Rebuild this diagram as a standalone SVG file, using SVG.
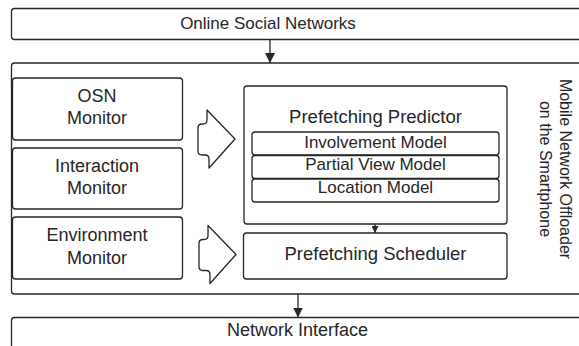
<svg xmlns="http://www.w3.org/2000/svg" width="579" height="346" viewBox="0 0 579 346">
  <style>
    .box { fill: #ffffff; stroke: #262626; stroke-width: 1.3; }
    .line { fill: none; stroke: #262626; stroke-width: 1.3; }
    .big { fill: #ffffff; stroke: #262626; stroke-width: 1.3; stroke-linejoin: round; }
    text { font-family: "Liberation Sans", Arial, sans-serif; fill: #262626; text-anchor: middle; }
  </style>
  <defs>
    <marker id="head" viewBox="0 0 10 10" refX="10" refY="5" markerWidth="10" markerHeight="10" markerUnits="userSpaceOnUse" orient="auto">
      <path d="M0,0 L10,5 L0,10 Z" fill="#262626"/>
    </marker>
    <marker id="headSmall" viewBox="0 0 10 10" refX="10" refY="5" markerWidth="7" markerHeight="7" markerUnits="userSpaceOnUse" orient="auto">
      <path d="M0,0 L10,5 L0,10 Z" fill="#262626"/>
    </marker>
    <path id="blockArrow" d="M207,110 L235,139 L209,168 L209,159 Q209,155 205,155 L202,155 Q198,155 198,151 L198,128 Q198,124 202,124 L203,124 Q207,124 207,120 Z"/>
  </defs>

  <!-- top layer -->
  <g id="osn">
    <rect class="box" x="11.5" y="8.5" width="620" height="31" rx="3"/>
    <text x="268" y="28.5" font-size="17">Online Social Networks</text>
  </g>

  <!-- smartphone container -->
  <g id="offloader">
    <rect class="box" x="11.5" y="63" width="620" height="231" rx="3"/>
    <text transform="translate(560,169) rotate(90)" font-size="16">Mobile Network Offloader</text>
    <text transform="translate(540,169) rotate(90)" font-size="16">on the Smartphone</text>
  </g>

  <g id="osn-monitor">
    <rect class="box" x="12.5" y="78" width="170" height="62" rx="3"/>
    <text x="97" y="101.5" font-size="18">OSN</text>
    <text x="97" y="124" font-size="18">Monitor</text>
  </g>

  <g id="interaction-monitor">
    <rect class="box" x="12.5" y="148" width="170" height="61" rx="3"/>
    <text x="97" y="171.5" font-size="18">Interaction</text>
    <text x="97" y="193.5" font-size="18">Monitor</text>
  </g>

  <g id="environment-monitor">
    <rect class="box" x="12.5" y="217" width="170" height="62" rx="3"/>
    <text x="97" y="241" font-size="18">Environment</text>
    <text x="97" y="263.5" font-size="18">Monitor</text>
  </g>

  <g id="predictor">
    <rect class="box" x="244" y="86" width="263" height="138" rx="3"/>
    <text x="375.5" y="123" font-size="18.5">Prefetching Predictor</text>
  </g>

  <g id="involvement-model">
    <rect class="box" x="252" y="132" width="247" height="23" rx="3"/>
    <text x="375.5" y="147.5" font-size="17">Involvement Model</text>
  </g>

  <g id="partial-view-model">
    <rect class="box" x="252" y="155.5" width="247" height="23" rx="3"/>
    <text x="375.5" y="170" font-size="17">Partial View Model</text>
  </g>

  <g id="location-model">
    <rect class="box" x="252" y="179" width="247" height="23" rx="3"/>
    <text x="375.5" y="193" font-size="17">Location Model</text>
  </g>

  <g id="scheduler">
    <rect class="box" x="243.5" y="233" width="263.5" height="46" rx="3"/>
    <text x="375.5" y="259.5" font-size="18.5">Prefetching Scheduler</text>
  </g>

  <!-- bottom layer -->
  <g id="network-interface">
    <rect class="box" x="11.5" y="317.5" width="620" height="40" rx="3"/>
    <text x="297.5" y="336" font-size="18">Network Interface</text>
  </g>

  <g id="connectors">
    <line class="line" x1="270" y1="39.5" x2="270" y2="63" marker-end="url(#head)"/>
    <line class="line" x1="298" y1="294" x2="298" y2="317.5" marker-end="url(#head)"/>
    <line class="line" x1="375" y1="224" x2="375" y2="233" marker-end="url(#headSmall)"/>
    <use href="#blockArrow" class="big"/>
    <use href="#blockArrow" class="big" transform="translate(1,115.5)"/>
  </g>
</svg>
